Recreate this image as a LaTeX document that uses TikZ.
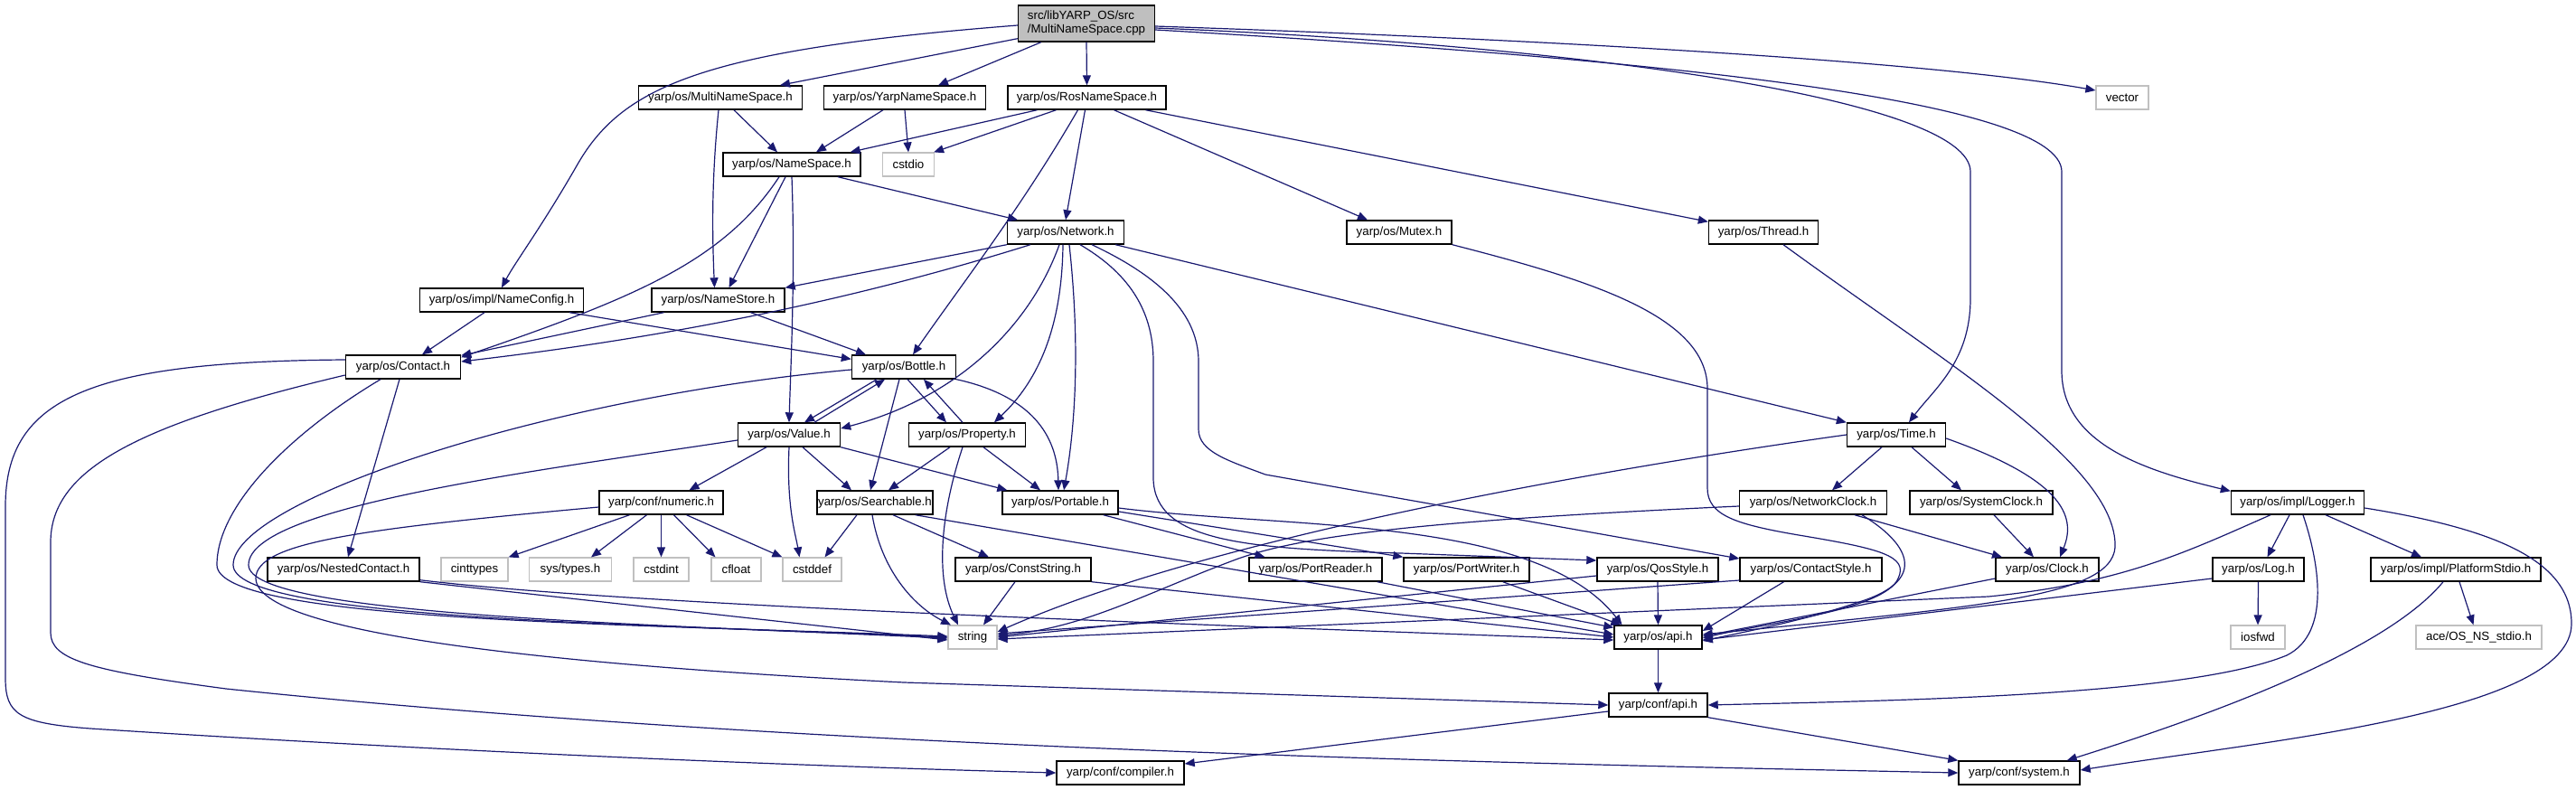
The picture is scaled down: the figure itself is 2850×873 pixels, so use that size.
\documentclass[tikz,border=0pt]{standalone}
\usepackage{fontspec}
\setmainfont{Liberation Sans}
\usetikzlibrary{arrows.meta}
\definecolor{edgec}{HTML}{191970}
\definecolor{rootgray}{HTML}{BFBFBF}
\definecolor{sysgray}{HTML}{C0C0C0}
\tikzset{
  hdr/.style={draw=black, line width=1.4pt, fill=white, inner sep=0pt, minimum height=26pt,
    font=\fontsize{13.3}{15}\selectfont},
  sys/.style={hdr, draw=sysgray, line width=1.2pt},
  e/.style={draw=edgec, line width=1.2pt, -{Triangle[length=11pt,width=9pt]}},
}
\begin{document}
\begin{tikzpicture}[x=1pt,y=-1pt]
\useasboundingbox (0,0) rectangle (2850,873);
% nodes
\node[hdr, fill=rootgray, minimum width=151pt, minimum height=40pt, align=left] (root) at (1202,26) {src/libYARP\_OS/src\\/MultiNameSpace.cpp};
\node[hdr, minimum width=181pt] (mns) at (797,108) {yarp/os/MultiNameSpace.h};
\node[hdr, minimum width=179pt] (yns) at (1001,108) {yarp/os/YarpNameSpace.h};
\node[hdr, minimum width=175pt] (rns) at (1202.5,108) {yarp/os/RosNameSpace.h};
\node[sys, minimum width=58pt] (vector) at (2348,108) {vector};
\node[hdr, minimum width=152pt] (nsp) at (876,182) {yarp/os/NameSpace.h};
\node[sys, minimum width=57pt] (cstdio) at (1005,182) {cstdio};
\node[hdr, minimum width=129pt] (network) at (1179,257) {yarp/os/Network.h};
\node[hdr, minimum width=116pt] (mutex) at (1548,257) {yarp/os/Mutex.h};
\node[hdr, minimum width=121pt] (thread) at (1951,257) {yarp/os/Thread.h};
\node[hdr, minimum width=181pt] (nameconfig) at (555,332) {yarp/os/impl/NameConfig.h};
\node[hdr, minimum width=147pt] (namestore) at (794.5,332) {yarp/os/NameStore.h};
\node[hdr, minimum width=127pt] (contact) at (446,406) {yarp/os/Contact.h};
\node[hdr, minimum width=115pt] (bottle) at (1000,406) {yarp/os/Bottle.h};
\node[hdr, minimum width=113pt] (value) at (873,481) {yarp/os/Value.h};
\node[hdr, minimum width=129pt] (property) at (1070,481) {yarp/os/Property.h};
\node[hdr, minimum width=109pt] (time) at (2098,481) {yarp/os/Time.h};
\node[hdr, minimum width=137pt] (numeric) at (731.5,556) {yarp/conf/numeric.h};
\node[hdr, minimum width=128pt] (searchable) at (968,556) {yarp/os/Searchable.h};
\node[hdr, minimum width=128pt] (portable) at (1173,556) {yarp/os/Portable.h};
\node[hdr, minimum width=163pt] (netclock) at (2006,556) {yarp/os/NetworkClock.h};
\node[hdr, minimum width=158pt] (sysclock) at (2192,556) {yarp/os/SystemClock.h};
\node[hdr, minimum width=147pt] (logger) at (2542,556) {yarp/os/impl/Logger.h};
\node[hdr, minimum width=168pt] (nested) at (380,630) {yarp/os/NestedContact.h};
\node[sys, minimum width=74pt] (cinttypes) at (525,630) {cinttypes};
\node[sys, minimum width=91pt] (systypes) at (631,630) {sys/types.h};
\node[sys, minimum width=61pt] (cstdint) at (731.5,630) {cstdint};
\node[sys, minimum width=55pt] (cfloat) at (814.5,630) {cfloat};
\node[sys, minimum width=65pt] (cstddef) at (898.5,630) {cstddef};
\node[hdr, minimum width=150pt] (conststring) at (1132,630) {yarp/os/ConstString.h};
\node[hdr, minimum width=147pt] (portreader) at (1455.5,630) {yarp/os/PortReader.h};
\node[hdr, minimum width=139pt] (portwriter) at (1622.5,630) {yarp/os/PortWriter.h};
\node[hdr, minimum width=134pt] (qosstyle) at (1834,630) {yarp/os/QosStyle.h};
\node[hdr, minimum width=157pt] (contactstyle) at (2003.5,630) {yarp/os/ContactStyle.h};
\node[hdr, minimum width=114pt] (clock) at (2265,630) {yarp/os/Clock.h};
\node[hdr, minimum width=101pt] (log) at (2498.5,630) {yarp/os/Log.h};
\node[hdr, minimum width=188pt] (platstdio) at (2717,630) {yarp/os/impl/PlatformStdio.h};
\node[sys, minimum width=54pt] (string) at (1076,705) {string};
\node[hdr, minimum width=97pt] (osapi) at (1834.5,705) {yarp/os/api.h};
\node[sys, minimum width=60pt] (iosfwd) at (2498,705) {iosfwd};
\node[sys, minimum width=139pt] (acestdio) at (2742.5,705) {ace/OS\_NS\_stdio.h};
\node[hdr, minimum width=109pt] (confapi) at (1834.5,780) {yarp/conf/api.h};
\node[hdr, minimum width=141pt] (compiler) at (1239.5,855) {yarp/conf/compiler.h};
\node[hdr, minimum width=134pt] (system) at (2234,855) {yarp/conf/system.h};
% root edges
\draw[e] ([yshift=-2pt]root.west) .. controls (780,55) and (690,95) .. (640,180) .. controls (600,250) and (570,290) .. (nameconfig.north);
\draw[e] ([yshift=4pt]root.south west) -- ([xshift=66pt]mns.north);
\draw[e] ([xshift=26pt]root.south west) -- ([xshift=37pt]yns.north);
\draw[e] (root.south) -- (rns.north);
\draw[e] ([yshift=-3pt]root.east) .. controls (1750,45) and (2150,70) .. ([yshift=8pt]vector.west);
\draw[e] ([yshift=-5pt]root.east) .. controls (1750,50) and (2180,110) .. (2180,190) -- (2180,330) .. controls (2180,400) and (2140,430) .. ([xshift=14pt]time.north);
\draw[e] ([yshift=-7pt]root.east) .. controls (1830,65) and (2281,110) .. (2281,190) -- (2281,410) .. controls (2281,490) and (2370,520) .. ([yshift=-1pt]logger.north west);
% multinamespace, yarpnamespace, rosnamespace
\draw[e] ([xshift=15pt]mns.south) -- ([xshift=-16pt]nsp.north);
\draw[e] ([xshift=-2pt]mns.south) .. controls (787,200) and (788,260) .. ([xshift=-4pt]namestore.north);
\draw[e] ([xshift=-24pt]yns.south) -- ([xshift=27pt]nsp.north);
\draw[e] (yns.south) -- (cstdio.north);
\draw[e] ([xshift=-55pt]rns.south) -- ([xshift=-12pt]nsp.north east);
\draw[e] ([xshift=-34pt]rns.south) -- ([xshift=-1pt]cstdio.north east);
\draw[e] ([xshift=-10pt]rns.south) .. controls (1130,230) and (1060,320) .. ([xshift=10pt]bottle.north);
\draw[e] ([xshift=-2pt]rns.south) -- (network.north);
\draw[e] ([xshift=30pt]rns.south) -- ([xshift=-35pt]mutex.north);
\draw[e] ([xshift=65pt]rns.south) -- ([yshift=-2pt]thread.north west);
% namespace
\draw[e] ([xshift=51pt]nsp.south) -- ([xshift=-53pt]network.north);
\draw[e] ([xshift=-14pt]nsp.south) .. controls (800,290) and (700,330) .. ([yshift=-3pt]contact.north east);
\draw[e] ([xshift=-7pt]nsp.south) -- ([xshift=12pt]namestore.north);
\draw[e] (nsp.south) .. controls (880,300) and (875,400) .. (value.north);
% nameconfig, namestore
\draw[e] ([xshift=-19pt]nameconfig.south) -- ([xshift=21pt]contact.north);
\draw[e] ([xshift=75pt]nameconfig.south) -- ([yshift=-5pt]bottle.north west);
\draw[e] ([xshift=-60pt]namestore.south) -- ([yshift=-1pt]contact.north east);
\draw[e] ([xshift=36pt]namestore.south) -- ([xshift=-42pt]bottle.north);
% network
\draw[e] (network.south west) -- (namestore.north east);
\draw[e] ([xshift=-39pt]network.south) .. controls (950,330) and (750,372) .. ([yshift=6pt]contact.east);
\draw[e] ([xshift=-7pt]network.south) .. controls (1140,360) and (1060,440) .. ([yshift=7pt]value.east);
\draw[e] ([xshift=-3pt]network.south) .. controls (1175,360) and (1150,420) .. ([xshift=30pt]property.north);
\draw[e] ([xshift=4pt]network.south) .. controls (1195,380) and (1190,470) .. ([xshift=4pt]portable.north);
\draw[e] ([xshift=16pt]network.south) .. controls (1245,300) and (1276,340) .. (1276,400) -- (1276,530) .. controls (1278,600) and (1380,607) .. (1550,612) -- ([yshift=10pt]qosstyle.west);
\draw[e] ([xshift=29pt]network.south) .. controls (1270,300) and (1326,340) .. (1326,400) -- (1326,475) .. controls (1326,500) and (1360,510) .. (1400,525) -- ([yshift=12pt]contactstyle.west);
\draw[e] ([xshift=-10pt]network.south east) -- (time.north west);
% mutex, thread
\draw[e] (mutex.south east) .. controls (1760,310) and (1889,350) .. (1889,430) -- (1889,540) .. controls (1889,570) and (1920,580) .. (1990,592) .. controls (2080,607) and (2112,615) .. (2100,640) .. controls (2085,675) and (1950,690) .. ([yshift=-1pt]osapi.east);
\draw[e] ([xshift=22pt]thread.south) .. controls (2150,400) and (2335,510) .. (2340,600) .. controls (2345,660) and (2200,670) .. ([yshift=3pt]osapi.east);
% time, clocks
\draw[e] (time.west) .. controls (1800,515) and (1350,590) .. ([yshift=6pt]string.east);
\draw[e] ([xshift=-16pt]time.south) -- ([xshift=21pt]netclock.north);
\draw[e] ([xshift=17pt]time.south) -- ([xshift=-22pt]sysclock.north);
\draw[e] ([yshift=-4pt]time.east) .. controls (2280,530) and (2298,570) .. ([xshift=14pt]clock.north);
\draw[e] ([yshift=-4pt]netclock.west) .. controls (1600,575) and (1450,590) .. (1370,618) .. controls (1270,655) and (1200,695) .. ([yshift=2pt]string.east);
\draw[e] ([xshift=46pt]netclock.south) -- ([xshift=-50pt]clock.north);
\draw[e] ([xshift=54pt]netclock.south) .. controls (2110,600) and (2135,640) .. (2060,665) .. controls (2000,685) and (1950,695) .. ([yshift=-4pt]osapi.east);
\draw[e] ([xshift=14pt]sysclock.south) -- ([xshift=-15pt]clock.north);
\draw[e] ([yshift=-10pt]clock.west) -- ([yshift=1pt]osapi.east);
% styles, ports
\draw[e] ([xshift=-30pt]contactstyle.south) -- ([yshift=7pt]osapi.east);
\draw[e] ([yshift=-12pt]contactstyle.west) -- ([yshift=4pt]string.east);
\draw[e] (qosstyle.south) -- (osapi.north);
\draw[e] ([yshift=-7pt]qosstyle.west) -- (string.east);
\draw[e] ([xshift=-6pt]portreader.south east) -- ([yshift=-3pt]osapi.north west);
\draw[e] ([xshift=-30pt]portwriter.south east) -- ([xshift=8pt]osapi.north west);
\draw[e] ([xshift=-17pt]portable.south east) -- ([xshift=-56pt]portreader.north);
\draw[e] ([yshift=-10pt]portable.east) -- (portwriter.north west);
\draw[e] ([yshift=-6pt]portable.east) .. controls (1420,585) and (1700,570) .. ([xshift=-40pt]osapi.north);
% value, bottle, property
\draw[e] ([xshift=28pt]value.north) -- ([xshift=-21pt]bottle.south);
\draw[e] ([xshift=-30pt]bottle.south) -- ([xshift=17pt]value.north);
\draw[e] ([yshift=-6pt]value.west) .. controls (600,520) and (275,560) .. (275,625) .. controls (275,680) and (700,690) .. ([yshift=-1pt]string.west);
\draw[e] ([xshift=-25pt]value.south) -- ([xshift=31pt]numeric.north);
\draw[e] ([xshift=15pt]value.south) -- ([xshift=-26pt]searchable.north);
\draw[e] (value.south east) -- ([xshift=6pt]portable.north west);
\draw[e] (value.south) .. controls (870,560) and (880,590) .. ([xshift=-14pt]cstddef.north);
\draw[e] ([xshift=4pt]bottle.south) -- ([xshift=-23pt]property.north);
\draw[e] ([xshift=-5pt]property.north) -- ([xshift=22pt]bottle.south);
\draw[e] ([xshift=-5pt]bottle.south) -- ([xshift=-5pt]searchable.north);
\draw[e] (bottle.south east) .. controls (1150,440) and (1170,490) .. ([xshift=-2pt]portable.north);
\draw[e] ([yshift=-3pt]bottle.west) .. controls (600,440) and (258,555) .. (258,625) .. controls (258,685) and (700,690) .. (string.west);
\draw[e] ([xshift=-19pt]property.south) -- ([xshift=15pt]searchable.north);
\draw[e] ([xshift=18pt]property.south) -- ([xshift=-22pt]portable.north);
\draw[e] ([xshift=-5pt]property.south) .. controls (1040,570) and (1035,640) .. ([xshift=-16pt]string.north);
% searchable, conststring, nested
\draw[e] ([xshift=-20pt]searchable.south) -- ([xshift=14pt]cstddef.north);
\draw[e] ([xshift=-3pt]searchable.south) .. controls (975,630) and (1010,670) .. ([xshift=-24pt]string.north);
\draw[e] ([xshift=20pt]searchable.south) -- ([xshift=-38pt]conststring.north);
\draw[e] ([xshift=-20pt]searchable.south east) -- ([yshift=3pt]osapi.west);
\draw[e] ([xshift=-9pt]conststring.south) -- ([xshift=12pt]string.north);
\draw[e] (conststring.south east) -- (osapi.west);
\draw[e] (nested.south east) -- ([yshift=-3pt]string.west);
\draw[e] ([yshift=2pt]nested.south east) .. controls (700,670) and (1300,690) .. ([yshift=-3pt]osapi.west);
% contact
\draw[e] ([xshift=-4pt]contact.south) -- ([xshift=5pt]nested.north);
\draw[e] ([xshift=-25pt]contact.south) .. controls (320,480) and (240,560) .. (240,625) .. controls (240,688) and (700,690) .. ([yshift=1pt]string.west);
\draw[e] ([yshift=8pt]contact.west) .. controls (100,400) and (6,440) .. (6,560) -- (6,750) .. controls (6,790) and (20,800) .. (100,806) .. controls (500,832) and (900,848) .. (compiler.west);
\draw[e] ([yshift=-9pt]contact.west) .. controls (150,470) and (56,520) .. (56,600) -- (56,700) .. controls (56,730) and (100,742) .. (250,762) .. controls (900,830) and (1700,845) .. (system.west);
% numeric
\draw[e] ([xshift=-35pt]numeric.south) -- (cinttypes.north east);
\draw[e] ([xshift=-16pt]numeric.south) -- ([xshift=23pt]systypes.north);
\draw[e] (numeric.south) -- (cstdint.north);
\draw[e] ([xshift=14pt]numeric.south) -- ([xshift=-23pt]cfloat.north);
\draw[e] ([xshift=28pt]numeric.south) -- (cstddef.north west);
\draw[e] ([yshift=-5pt]numeric.west) .. controls (400,585) and (283,600) .. (283,640) .. controls (285,700) and (600,735) .. (1000,755) -- (confapi.west);
% logger, log, platform
\draw[e] ([xshift=-30pt]logger.south) .. controls (2420,610) and (2350,645) .. (2200,660) -- ([yshift=-2pt]string.east);
\draw[e] ([xshift=-9pt]logger.south) -- ([xshift=10pt]log.north);
\draw[e] ([xshift=6pt]logger.south) .. controls (2565,620) and (2580,700) .. (2530,725) .. controls (2420,770) and (2100,775) .. (confapi.east);
\draw[e] ([xshift=31pt]logger.south) -- ([xshift=-38pt]platstdio.north);
\draw[e] ([yshift=-6pt]logger.east) .. controls (2760,585) and (2845,620) .. (2845,690) .. controls (2845,790) and (2500,820) .. ([yshift=3pt]system.east);
\draw[e] ([yshift=-10pt]log.west) -- ([yshift=-3pt]osapi.east);
\draw[e] (log.south) -- (iosfwd.north);
\draw[e] ([xshift=4pt]platstdio.south) -- ([xshift=-6pt]acestdio.north);
\draw[e] ([xshift=-14pt]platstdio.south) .. controls (2640,720) and (2450,790) .. ([xshift=-15pt]system.north east);
% api
\draw[e] (osapi.south) -- (confapi.north);
\draw[e] ([yshift=-7pt]confapi.west) -- ([yshift=10pt]compiler.east);
\draw[e] (confapi.south east) -- (system.north west);
\end{tikzpicture}
\end{document}
